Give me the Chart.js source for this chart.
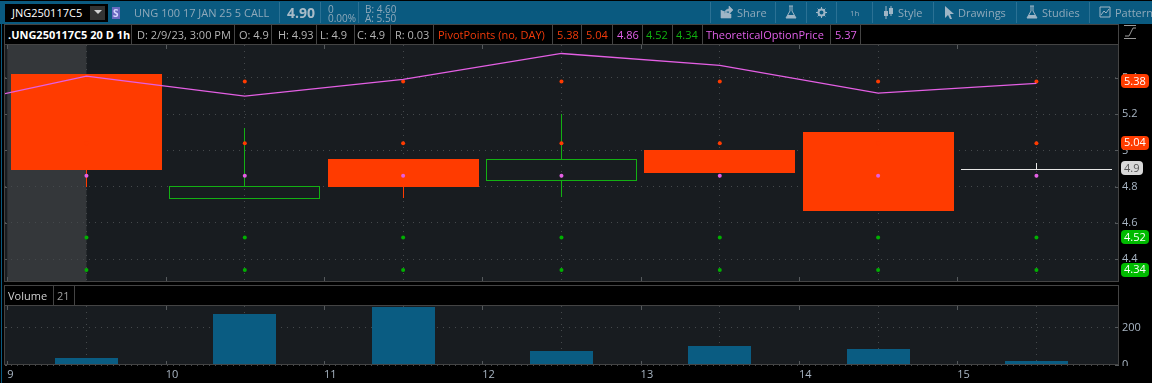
<!DOCTYPE html>
<html>
<head>
<meta charset="utf-8">
<script src="https://cdn.jsdelivr.net/npm/chart.js@4"></script>
<style>
html, body { margin: 0; padding: 0; background: #000; width: 1152px; height: 383px; overflow: hidden; }
body { position: relative; font-family: "Open Sans", sans-serif; font-size: 11px; }
canvas { position: absolute; left: 0; }
#toolbar { position: absolute; left: 0; top: 1px; width: 1152px; height: 23px; background: #0a5a80; }
#strip { position: absolute; left: 5px; top: 25px; width: 1113px; height: 19px; background: #000; }
.t { position: absolute; white-space: nowrap; line-height: 16px; z-index: 2; }
.sep { position: absolute; width: 1px; }
.line { position: absolute; background: #444; }
svg { position: absolute; z-index: 2; }
</style>
</head>
<body>
<div id="toolbar"></div>
<canvas id="price-chart" width="1152" height="237" style="top:45px"></canvas>
<canvas id="volume-chart" width="1152" height="78" style="top:305px"></canvas>
<div id="strip"></div>
<div class="line" style="left:1px;top:24px;width:1px;height:359px;background:#0a5a80"></div>
<div class="line" style="left:4px;top:24px;width:1115px;height:1px"></div>
<div class="line" style="left:4px;top:44px;width:1115px;height:1px"></div>
<div class="line" style="left:4px;top:24px;width:1px;height:258px"></div>
<div class="line" style="left:4px;top:281px;width:1115px;height:1px"></div>
<div class="line" style="left:1118px;top:24px;width:1px;height:258px"></div>
<div class="line" style="left:4px;top:285px;width:1115px;height:1px"></div>
<div class="line" style="left:4px;top:305px;width:1115px;height:1px"></div>
<div class="line" style="left:4px;top:285px;width:1px;height:80px"></div>
<div class="line" style="left:1118px;top:285px;width:1px;height:80px"></div>
<div class="line" style="left:4px;top:364px;width:1115px;height:1px"></div>
<svg style="left:1124px;top:25px" width="13" height="14"><path d="M0 .5H12M0 13.5H12M1 11L5 11L9 3L12 3" stroke="#9a9a9a" fill="none"/></svg>
<!-- toolbar icons -->
<svg style="left:720px;top:6px" width="13" height="13"><path d="M1 4V12H11V8M4 8C5 4 7 3 9 3V0L13 4L9 8V5C7 5 5 6 4 8Z" stroke="#9fb6c6" fill="#9fb6c6" stroke-width=".6"/></svg>
<svg style="left:785px;top:5px" width="12" height="15"><path d="M4 1H8M5 1V6L1 13H11L7 6V1" stroke="#9fb6c6" fill="none"/><path d="M3 10H9L11 13H1Z" fill="#9fb6c6"/></svg>
<svg style="left:816px;top:7px" width="11" height="11"><circle cx="5.5" cy="5.5" r="3" fill="none" stroke="#9fb6c6" stroke-width="2"/><path d="M5.5 0V11M0 5.5H11M1.6 1.6L9.4 9.4M9.4 1.6L1.6 9.4" stroke="#9fb6c6" stroke-dasharray="2 7"/></svg>
<svg style="left:883px;top:6px" width="11" height="13"><path d="M3 0V13M8 0V10" stroke="#9fb6c6"/><rect x="1" y="5" width="4" height="5" fill="#9fb6c6"/><rect x="6" y="2" width="4" height="6" fill="#9fb6c6"/></svg>
<svg style="left:944px;top:6px" width="11" height="14"><path d="M1 0L10 8H6L8 13L6 13L4 9L1 12Z" fill="#9fb6c6"/></svg>
<svg style="left:1026px;top:5px" width="12" height="15"><path d="M4 1H8M5 1V6L1 13H11L7 6V1" stroke="#9fb6c6" fill="none"/><path d="M3 10H9L11 13H1Z" fill="#9fb6c6"/></svg>
<svg style="left:1099px;top:6px" width="12" height="13"><path d="M1 1H11V11H1ZM2 9L5 5L7 7L10 3" stroke="#9fb6c6" fill="none"/></svg>
<svg style="left:94px;top:10px" width="8" height="5"><path d="M0 0H8L4 4Z" fill="#d0d0d0"/></svg>
<script>
// Bars, one per hour
const barHours = [9.5, 10.5, 11.5, 12.5, 13.5, 14.5, 15.5];
const barKinds = ['down', 'up', 'down', 'up', 'down', 'down', 'flat'];
const bodyHigh = [5.42, 4.803, 4.954, 4.954, 5.00, 5.10, 4.897];
const bodyLow = [4.89, 4.73, 4.796, 4.83, 4.875, 4.665, 4.892];
const wickHigh = [5.42, 5.125, 4.954, 5.20, 5.00, 5.10, 4.93];
const wickLow = [4.80, 4.73, 4.74, 4.745, 4.875, 4.665, 4.892];

// Pivot points study
const pivotR2 = [5.38, 5.38, 5.38, 5.38, 5.38, 5.38, 5.38];
const pivotR1 = [5.04, 5.04, 5.04, 5.04, 5.04, 5.04, 5.04];
const pivotP = [4.86, 4.86, 4.86, 4.86, 4.86, 4.86, 4.86];
const pivotS1 = [4.52, 4.52, 4.52, 4.52, 4.52, 4.52, 4.52];
const pivotS2 = [4.34, 4.34, 4.34, 4.34, 4.34, 4.34, 4.34];

// TheoreticalOptionPrice starts one bar before the visible range
const theoHours = [8.5, 9.5, 10.5, 11.5, 12.5, 13.5, 14.5, 15.5];
const theoValues = [5.223, 5.41, 5.30, 5.392, 5.535, 5.469, 5.316, 5.37];

const volumeValues = [39, 272, 310, 72, 99, 83, 21];

const xTicks = [9, 10, 11, 12, 13, 14, 15];
const priceTicks = [5.4, 5.2, 5, 4.8, 4.6, 4.4];
const volumeTicks = [200, 0];

// Value tags on the right axis
const tagValues = [5.38, 5.04, 4.9, 4.52, 4.34];
const tagLabels = ['5.38', '5.04', '4.9', '4.52', '4.34'];
const tagColors = ['#ff3c00', '#ff3c00', '#d8d8d8', '#00bb00', '#00bb00'];
const tagTextColors = ['#ffffff', '#ffffff', '#555555', '#ffffff', '#ffffff'];

const RED = '#ff3b00';
const GREEN = '#13b013';
const WHITE = '#e6e6e6';
const PINK = '#e45fe4';
const GRID = '#45494c';
const PANEL = '#181c20';
const LABEL = '#a9b6c4';
const kindColor = { down: RED, up: GREEN, flat: WHITE };

function zip(xs, ys) {
    return xs.map((x, i) => ({ x: x, y: ys[i] }));
}

function wickData(from, to) {
    return barHours.map((x, i) => ({ x: x, y: [from[i], to[i]] }));
}

function dots(values, color) {
    return {
        type: 'line',
        data: zip(barHours, values),
        showLine: false,
        pointRadius: 2,
        pointBorderWidth: 0,
        pointBackgroundColor: color,
        order: 1
    };
}

// Tick labels must not push the plot area in from the frame
function noPadding(s) {
    s.paddingTop = 0;
    s.paddingBottom = 0;
    s.paddingLeft = 0;
    s.paddingRight = 0;
}

// Keep candle edges on whole pixels so 1px wicks stay sharp
const snapBars = {
    id: 'snapBars',
    beforeDatasetsDraw(chart) {
        chart.getSortedVisibleDatasetMetas().forEach(meta => {
            if (meta.type !== 'bar') return;
            meta.data.forEach(el => {
                el.x = Math.floor(el.x) + 0.5;
                el.y = Math.round(el.y);
                el.base = Math.round(el.base);
            });
        });
    }
};

// Pane background, plus the pre-market band from 9:00 to 9:30
const panelBackground = {
    id: 'panelBackground',
    beforeDraw(chart, args, opts) {
        const a = chart.chartArea;
        const ctx = chart.ctx;
        ctx.fillStyle = PANEL;
        ctx.fillRect(a.left, a.top, a.right - a.left, a.bottom - a.top);
        if (opts.band) {
            const x0 = chart.scales.x.getPixelForValue(opts.band[0]);
            const x1 = chart.scales.x.getPixelForValue(opts.band[1]);
            ctx.fillStyle = '#34373a';
            ctx.fillRect(x0, a.top, x1 - x0, a.bottom - a.top);
        }
    }
};

// Solid tick marks on the inside of the frame
const innerTicks = {
    id: 'innerTicks',
    afterDraw(chart) {
        const a = chart.chartArea;
        const ctx = chart.ctx;
        ctx.strokeStyle = '#55595c';
        ctx.lineWidth = 1;
        ctx.beginPath();
        chart.scales.x.ticks.forEach(t => {
            const x = Math.round(chart.scales.x.getPixelForValue(t.value)) + 0.5;
            ctx.moveTo(x, a.top);
            ctx.lineTo(x, a.top + 4);
            ctx.moveTo(x, a.bottom);
            ctx.lineTo(x, a.bottom - 4);
        });
        chart.scales.y.ticks.forEach(t => {
            const y = Math.round(chart.scales.y.getPixelForValue(t.value)) + 0.5;
            ctx.moveTo(a.left, y);
            ctx.lineTo(a.left + 2, y);
            ctx.moveTo(a.right - 4, y);
            ctx.lineTo(a.right, y);
        });
        ctx.stroke();
    }
};

const valueTags = {
    id: 'valueTags',
    afterDraw(chart) {
        const ctx = chart.ctx;
        ctx.font = '11px "Open Sans"';
        ctx.textAlign = 'left';
        ctx.textBaseline = 'middle';
        tagValues.forEach((v, i) => {
            const y = chart.scales.y.getPixelForValue(v) - 0.5;
            const w = tagLabels[i].length > 3 ? 28 : 22;
            ctx.fillStyle = tagColors[i];
            ctx.beginPath();
            ctx.roundRect(1121, Math.round(y - 7), w, 14, 4);
            ctx.fill();
            ctx.fillStyle = tagTextColors[i];
            ctx.fillText(tagLabels[i], 1124, y + 0.5);
        });
    }
};

// The 0 of the volume axis is cut off by the bottom of the pane
const maskBelow = {
    id: 'maskBelow',
    afterDraw(chart) {
        const a = chart.chartArea;
        chart.ctx.fillStyle = '#000';
        chart.ctx.fillRect(a.right + 1, a.bottom + 1, 60, 30);
    }
};

function xAxis(showLabels, height) {
    return {
        type: 'linear',
        offset: false,
        min: 8.9855,
        max: 16.0214,
        afterBuildTicks: s => { s.ticks = xTicks.map(v => ({ value: v })); },
        afterFit: s => { s.height = height; noPadding(s); },
        border: { display: false, dash: [1, 5] },
        grid: { color: GRID, drawTicks: false },
        ticks: {
            display: showLabels,
            align: 'start',
            autoSkip: false,
            maxRotation: 0,
            padding: 3,
            color: LABEL,
            font: { family: 'Open Sans', size: 11 },
            callback: v => String(v)
        }
    };
}

function yAxis(min, max, tickValues) {
    return {
        position: 'right',
        min: min,
        max: max,
        afterBuildTicks: s => { s.ticks = tickValues.map(v => ({ value: v })); },
        afterFit: s => { s.width = 33; noPadding(s); },
        border: { display: false, dash: [1, 5] },
        grid: { color: GRID, drawTicks: false },
        ticks: {
            padding: 3,
            color: LABEL,
            font: { family: 'Open Sans', size: 11 },
            callback: v => String(v)
        }
    };
}

new Chart(document.getElementById('price-chart'), {
    type: 'bar',
    data: {
        datasets: [
            {
                type: 'line',
                data: zip(theoHours, theoValues),
                borderColor: PINK,
                borderWidth: 1.3,
                pointRadius: 0,
                tension: 0,
                order: 0
            },
            dots(pivotR2, RED),
            dots(pivotR1, RED),
            dots(pivotP, PINK),
            dots(pivotS1, '#00b000'),
            dots(pivotS2, '#00b000'),
            {
                data: barHours.map((x, i) => ({ x: x, y: [bodyLow[i], bodyHigh[i]] })),
                grouped: false,
                barThickness: 151,
                inflateAmount: 0,
                borderSkipped: false,
                borderWidth: barKinds.map(k => (k === 'up' ? 1 : 0)),
                borderColor: barKinds.map(k => kindColor[k]),
                backgroundColor: barKinds.map(k => (k === 'up' ? 'rgba(0,0,0,0)' : kindColor[k])),
                order: 2
            },
            {
                data: wickData(bodyHigh, wickHigh),
                grouped: false,
                barThickness: 1,
                inflateAmount: 0,
                backgroundColor: barKinds.map(k => kindColor[k]),
                order: 3
            },
            {
                data: wickData(wickLow, bodyLow),
                grouped: false,
                barThickness: 1,
                inflateAmount: 0,
                backgroundColor: barKinds.map(k => kindColor[k]),
                order: 3
            }
        ]
    },
    options: {
        responsive: false,
        animation: false,
        devicePixelRatio: 1,
        layout: { autoPadding: false, padding: { left: 5, right: 0, top: 0, bottom: 1 } },
        scales: {
            x: xAxis(false, 0),
            y: yAxis(4.2798, 5.5818, priceTicks)
        },
        plugins: {
            legend: { display: false },
            tooltip: { enabled: false },
            panelBackground: { band: [9, 9.5] }
        }
    },
    plugins: [panelBackground, snapBars, innerTicks, valueTags]
});

new Chart(document.getElementById('volume-chart'), {
    type: 'bar',
    data: {
        datasets: [{
            data: zip(barHours, volumeValues),
            grouped: false,
            barThickness: 63,
            inflateAmount: 0,
            backgroundColor: '#0a5c82'
        }]
    },
    options: {
        responsive: false,
        animation: false,
        devicePixelRatio: 1,
        layout: { autoPadding: false, padding: { left: 5, right: 0, top: 1, bottom: 0 } },
        scales: {
            x: xAxis(true, 18),
            y: yAxis(0, 314, volumeTicks)
        },
        plugins: {
            legend: { display: false },
            tooltip: { enabled: false }
        }
    },
    plugins: [panelBackground, snapBars, innerTicks, maskBelow]
});

// Text of the toolbar and the two study strips
const MUTED = '#8fa9ba';
const toolbarText = [
    ['JNG250117C5', 12, 5, '#ffffff', 11, 400],
    ['S', 113, 5, '#d8d8ff', 10, 700],
    ['UNG 100 17 JAN 25 5 CALL', 134, 5, MUTED, 11, 400],
    ['4.90', 287, 5, '#a9bcc8', 14, 700],
    ['0', 328, 1, MUTED, 10, 400],
    ['0.00%', 328, 10, MUTED, 10, 400],
    ['B: 4.60', 365, 1, MUTED, 10, 400],
    ['A: 5.50', 365, 10, MUTED, 10, 400],
    ['Share', 737, 5, MUTED, 11, 400],
    ['1h', 850, 5, MUTED, 8, 400],
    ['Style', 898, 5, MUTED, 11, 400],
    ['Drawings', 958, 5, MUTED, 11, 400],
    ['Studies', 1042, 5, MUTED, 11, 400],
    ['Pattern', 1115, 5, MUTED, 11, 400]
];
const toolbarSeps = [279, 320, 358, 710, 775, 806, 836, 872, 933, 1016, 1089];

const stripText = [
    ['.UNG250117C5 20 D 1h', 8, '#ffffff', 700],
    ['D: 2/9/23, 3:00 PM', 137, '#b5b5b5', 400],
    ['O: 4.9', 239, '#b5b5b5', 400],
    ['H: 4.93', 278, '#b5b5b5', 400],
    ['L: 4.9', 320, '#b5b5b5', 400],
    ['C: 4.9', 357, '#b5b5b5', 400],
    ['R: 0.03', 395, '#b5b5b5', 400],
    ['PivotPoints (no, DAY)', 438, '#f03a0a', 400],
    ['5.38', 557, '#f03a0a', 400],
    ['5.04', 586, '#f03a0a', 400],
    ['4.86', 617, '#e060e8', 400],
    ['4.52', 646, '#10b010', 400],
    ['4.34', 676, '#10b010', 400],
    ['TheoreticalOptionPrice', 706, '#e060e8', 400],
    ['5.37', 835, '#e060e8', 400]
];
const stripSeps = [131, 234, 271, 316, 354, 390, 433, 552, 581, 612, 642, 672, 702, 830, 860];

function addText(str, x, y, color, size, weight) {
    const el = document.createElement('span');
    el.className = 't';
    el.textContent = str;
    el.style.cssText = 'left:' + x + 'px;top:' + y + 'px;color:' + color + ';font-size:' + size + 'px;font-weight:' + weight;
    document.body.appendChild(el);
}

function addSep(x, y, h, color) {
    const el = document.createElement('div');
    el.className = 'sep';
    el.style.cssText = 'left:' + x + 'px;top:' + y + 'px;height:' + h + 'px;background:' + color;
    document.body.appendChild(el);
}

// Symbol box, dropdown button and badge sit under the toolbar text
function addBox(x, y, w, h, color) {
    const el = document.createElement('div');
    el.style.cssText = 'position:absolute;left:' + x + 'px;top:' + y + 'px;width:' + w + 'px;height:' + h + 'px;background:' + color;
    document.body.appendChild(el);
}
addBox(5, 4, 103, 18, '#000000');
addBox(90, 6, 15, 14, '#333333');
addBox(112, 7, 8, 12, '#6a6ac0');

toolbarSeps.forEach(x => addSep(x, 2, 21, '#2b7194'));
toolbarText.forEach(r => addText(r[0], r[1], r[2], r[3], r[4], r[5]));
stripSeps.forEach(x => addSep(x, 25, 19, '#444444'));
stripText.forEach(r => addText(r[0], r[1], 27, r[2], 11, r[3]));
addSep(74, 286, 19, '#444444');
addSep(53, 286, 19, '#444444');
addText('Volume', 8, 288, '#d0d0d0', 11, 400);
addText('21', 57, 288, '#a0a0a0', 11, 400);
</script>
</body>
</html>
